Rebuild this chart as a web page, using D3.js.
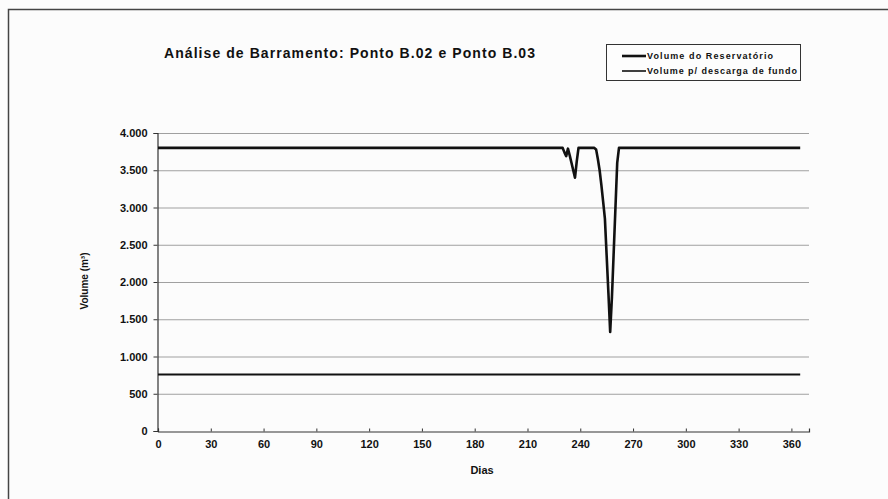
<!DOCTYPE html>
<html>
<head>
<meta charset="utf-8">
<script src="https://cdn.jsdelivr.net/npm/d3@7"></script>
<style>
  body { margin: 0; background: #f7f7f7; }
  svg { display: block; font-family: Arial, "Liberation Sans", sans-serif; }
</style>
</head>
<body>
<div id="chart"></div>
<script>
// dados (pontos de mudança)
const diasReservatorio = [0, 230, 231, 232, 233, 234, 235, 236, 237, 238, 239, 248, 249, 250, 251, 252, 253, 254, 255, 256, 257, 258, 259, 260, 261, 262, 365];
const volumeReservatorio = [3800, 3800, 3740, 3690, 3790, 3700, 3600, 3500, 3400, 3620, 3800, 3800, 3780, 3650, 3500, 3300, 3080, 2850, 2350, 1850, 1330, 1800, 2400, 3000, 3600, 3800, 3800];
const diasDescarga = [0, 365];
const volumeDescarga = [760, 760];
const xTicks = [0, 30, 60, 90, 120, 150, 180, 210, 240, 270, 300, 330, 360];
const yTicks = [0, 500, 1000, 1500, 2000, 2500, 3000, 3500, 4000];
const legenda = ["Volume do Reservatório", "Volume p/ descarga de fundo"];

const W = 888, H = 499;
const m = { left: 158, right: 79, top: 133, bottom: 68 };

const svg = d3.select("#chart").append("svg")
  .attr("width", W).attr("height", H);

svg.append("rect")
  .attr("x", 0).attr("y", 0).attr("width", W).attr("height", H)
  .attr("fill", "#fcfcfc");
// moldura (só topo e esquerda aparecem)
svg.append("path")
  .attr("d", "M8.5,499 V9.5 H888")
  .attr("fill", "none").attr("stroke", "#444").attr("stroke-width", 1.5);

const x = d3.scaleLinear().domain([0, 370]).range([m.left, W - m.right]);
const y = d3.scaleLinear().domain([0, 4000]).range([H - m.bottom, m.top]);

// grade
svg.append("g").selectAll("line")
  .data(yTicks.filter(d => d > 0))
  .enter().append("line")
  .attr("x1", x(0)).attr("x2", x(370))
  .attr("y1", d => y(d) + 0.5).attr("y2", d => y(d) + 0.5)
  .attr("stroke", "#a0a0a0").attr("stroke-width", 1);

// eixos
const xAxis = svg.append("g")
  .attr("transform", `translate(0,${y(0) + 0.5})`)
  .call(d3.axisBottom(x).tickValues(xTicks).tickSize(-3).tickPadding(9).tickFormat(d3.format("d")));
const yAxis = svg.append("g")
  .attr("transform", `translate(${x(0) - 0.5},0)`)
  .call(d3.axisLeft(y).tickValues(yTicks).tickSize(4).tickPadding(6)
    .tickFormat(d => d3.format(",")(d).replace(",", ".")));

[xAxis, yAxis].forEach(a => {
  a.select(".domain").attr("stroke", "#333").attr("stroke-width", 1.2);
  a.selectAll(".tick line").attr("stroke", "#333");
  a.selectAll("text").attr("fill", "#111")
    .style("font-size", "11px").style("font-weight", "bold");
});

// séries
const linha = d3.line().x(d => x(d[0])).y(d => y(d[1]));

svg.append("path")
  .datum(diasDescarga.map((d, i) => [d, volumeDescarga[i]]))
  .attr("d", linha).attr("fill", "none")
  .attr("stroke", "#111").attr("stroke-width", 2);

svg.append("path")
  .datum(diasReservatorio.map((d, i) => [d, volumeReservatorio[i]]))
  .attr("d", linha).attr("fill", "none")
  .attr("stroke", "#111").attr("stroke-width", 2.6)
  .attr("stroke-linejoin", "round");

// títulos
svg.append("text")
  .attr("x", 164).attr("y", 58)
  .attr("textLength", 371).attr("lengthAdjust", "spacing")
  .style("font-size", "14px").style("font-weight", "bold").attr("fill", "#111")
  .text("Análise de Barramento: Ponto B.02 e Ponto B.03");

svg.append("text")
  .attr("x", 482).attr("y", 474).attr("text-anchor", "middle")
  .style("font-size", "11px").style("font-weight", "bold").attr("fill", "#111")
  .text("Dias");

svg.append("text")
  .attr("transform", "translate(88,281) rotate(-90)")
  .attr("text-anchor", "middle")
  .style("font-size", "10px").style("font-weight", "bold").attr("fill", "#111")
  .text("Volume (m³)");

// legenda
const leg = svg.append("g");
leg.append("rect")
  .attr("x", 606.5).attr("y", 44.5).attr("width", 194).attr("height", 36)
  .attr("fill", "#fdfdfd").attr("stroke", "#333");
const larguras = [126, 150];
legenda.forEach((t, i) => {
  const ly = 56 + i * 15;
  leg.append("line")
    .attr("x1", 622).attr("x2", 646).attr("y1", ly).attr("y2", ly)
    .attr("stroke", "#111").attr("stroke-width", i === 0 ? 2.6 : 1.6);
  leg.append("text")
    .attr("x", 647).attr("y", ly + 3)
    .attr("textLength", larguras[i]).attr("lengthAdjust", "spacing")
    .style("font-size", "9px").style("font-weight", "bold").attr("fill", "#111")
    .text(t);
});
</script>
</body>
</html>
